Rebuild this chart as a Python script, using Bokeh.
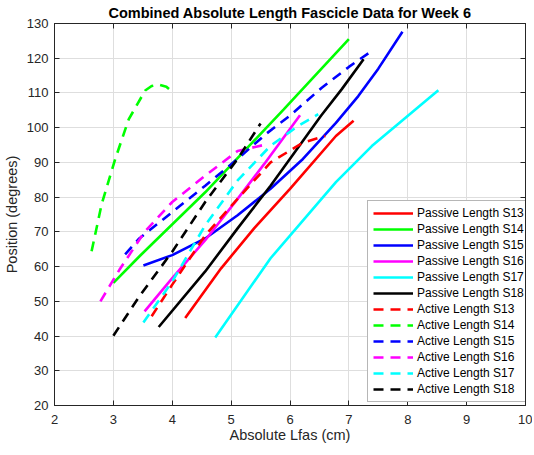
from bokeh.plotting import figure
from bokeh.models import LinearAxis, Range1d, FixedTicker, Legend, LegendItem
from bokeh.embed import file_html
from bokeh.resources import INLINE

# ---- data ----
p13_x = [4.22, 4.83, 5.39, 6.00, 6.78, 7.08]
p13_y = [45.2, 59.5, 71.0, 82.4, 97.6, 102.0]
p14_x = [3.00, 3.44, 4.56, 5.89, 7.00]
p14_y = [55.3, 62.9, 81.4, 105.2, 125.5]
p15_x = [3.51, 4.00, 4.56, 5.11, 5.67, 6.22, 6.78, 7.16, 7.50, 7.91]
p15_y = [60.3, 63.3, 68.1, 74.8, 82.4, 91.0, 101.4, 109.1, 117.0, 127.6]
p16_x = [3.53, 4.00, 4.56, 5.11, 5.56, 6.17]
p16_y = [47.1, 56.7, 67.6, 79.5, 89.5, 103.6]
p17_x = [4.73, 5.67, 6.78, 7.39, 8.52]
p17_y = [39.6, 62.4, 84.3, 94.7, 110.8]
p18_x = [3.77, 4.56, 5.11, 5.67, 6.53, 6.88, 7.25]
p18_y = [42.6, 58.6, 71.0, 83.3, 103.5, 111.1, 119.7]

a13_x = [3.65, 4.00, 4.56, 5.11, 5.67, 6.22, 6.60]
a13_y = [45.7, 54.8, 69.0, 79.5, 90.0, 95.7, 97.6]
a14_x = [2.63, 2.80, 3.03, 3.26, 3.54, 3.65, 3.77, 3.90, 4.00]
a14_y = [64.4, 77.9, 90.9, 102.4, 110.7, 112.0, 112.4, 111.8, 110.3]
a15_x = [3.20, 3.44, 4.00, 4.56, 5.11, 5.60, 6.00, 6.54, 7.00, 7.33]
a15_y = [63.5, 68.1, 75.7, 83.3, 91.0, 98.3, 103.5, 111.5, 117.5, 121.4]
a16_x = [2.78, 3.10, 3.53, 4.00, 4.56, 5.11, 5.55]
a16_y = [50.0, 59.0, 70.0, 78.6, 86.2, 93.3, 95.0]
a17_x = [3.51, 4.00, 4.56, 5.11, 5.67, 6.14, 6.48]
a17_y = [43.9, 55.7, 71.9, 84.8, 94.8, 100.5, 103.9]
a18_x = [3.00, 3.44, 4.00, 4.56, 5.11, 5.50]
a18_y = [40.1, 51.4, 64.3, 78.6, 91.0, 101.2]

x_ticks = [2, 3, 4, 5, 6, 7, 8, 9, 10]
y_ticks = [20, 30, 40, 50, 60, 70, 80, 90, 100, 110, 120, 130]

passive = [
    ("Passive Length S13", p13_x, p13_y, "#ff0000"),
    ("Passive Length S14", p14_x, p14_y, "#00ff00"),
    ("Passive Length S15", p15_x, p15_y, "#0000ff"),
    ("Passive Length S16", p16_x, p16_y, "#ff00ff"),
    ("Passive Length S17", p17_x, p17_y, "#00ffff"),
    ("Passive Length S18", p18_x, p18_y, "#000000"),
]
active = [
    ("Active Length S13", a13_x, a13_y, "#ff0000"),
    ("Active Length S14", a14_x, a14_y, "#00ff00"),
    ("Active Length S15", a15_x, a15_y, "#0000ff"),
    ("Active Length S16", a16_x, a16_y, "#ff00ff"),
    ("Active Length S17", a17_x, a17_y, "#00ffff"),
    ("Active Length S18", a18_x, a18_y, "#000000"),
]

FONT = "Liberation Sans"
AX = "#262626"

p = figure(frame_width=471, frame_height=382, output_backend="svg", toolbar_location=None,
           x_range=Range1d(2, 10), y_range=Range1d(20, 130),
           min_border_left=49, min_border_right=7, min_border_top=16, min_border_bottom=49,
           background_fill_color="white", border_fill_color="white")

p.title.text = "Combined Absolute Length Fascicle Data for Week 6"
p.title.align = "center"
p.title.text_font = FONT
p.title.text_font_size = "14.5px"
p.title.text_font_style = "bold"
p.title.text_color = "#000000"
p.title.standoff = 5
p.title.offset = 0

items = []
for name, xs, ys, c in passive:
    r = p.line(xs, ys, line_color=c, line_width=2.6)
    items.append(LegendItem(label=name, renderers=[r]))
for name, xs, ys, c in active:
    r = p.line(xs, ys, line_color=c, line_width=2.6, line_dash="10 7")
    items.append(LegendItem(label=name, renderers=[r]))

for ax in [p.xaxis[0], p.yaxis[0]]:
    ax.major_tick_in = 5
    ax.major_tick_out = 0
    ax.minor_tick_line_color = None
    ax.axis_line_color = AX
    ax.major_tick_line_color = AX
    ax.major_label_text_color = AX
    ax.major_label_text_font = FONT
    ax.major_label_text_font_size = "13px"
    ax.axis_label_text_font = FONT
    ax.axis_label_text_font_size = "14.5px"
    ax.axis_label_text_font_style = "normal"
    ax.axis_label_text_color = AX

p.xaxis[0].ticker = FixedTicker(ticks=x_ticks)
p.yaxis[0].ticker = FixedTicker(ticks=y_ticks)
p.xaxis[0].axis_label = "Absolute Lfas (cm)"
p.yaxis[0].axis_label = "Position (degrees)"
p.xaxis[0].major_label_standoff = 9
p.xaxis[0].axis_label_standoff = 0
p.yaxis[0].major_label_standoff = 6
p.yaxis[0].axis_label_standoff = 4

# box ticks on the top and right (no labels drawn)
top = LinearAxis(ticker=FixedTicker(ticks=x_ticks), major_tick_in=5, major_tick_out=0,
                 minor_tick_line_color=None, axis_line_color=AX, major_tick_line_color=AX,
                 major_label_text_color=None, major_label_text_font_size="1px",
                 major_label_standoff=0)
right = LinearAxis(ticker=FixedTicker(ticks=y_ticks), major_tick_in=5, major_tick_out=0,
                   minor_tick_line_color=None, axis_line_color=AX, major_tick_line_color=AX,
                   major_label_text_color=None, major_label_text_font_size="1px",
                   major_label_standoff=0)
p.add_layout(top, "above")
p.add_layout(right, "right")

p.xgrid.ticker = FixedTicker(ticks=x_ticks)
p.ygrid.ticker = FixedTicker(ticks=y_ticks)
p.grid.grid_line_color = "#dedede"
p.grid.grid_line_width = 1
p.outline_line_color = AX

legend = Legend(items=items, location=(313, 3),
                label_text_font=FONT, label_text_font_size="12px", label_text_color="#000000",
                glyph_width=40, glyph_height=14, label_height=14, spacing=2,
                padding=5, label_standoff=4, margin=0,
                border_line_color="#6e6e6e", border_line_width=1,
                background_fill_color="white", background_fill_alpha=1)
p.add_layout(legend, "center")

open("out.html", "w").write(file_html(p, INLINE))
